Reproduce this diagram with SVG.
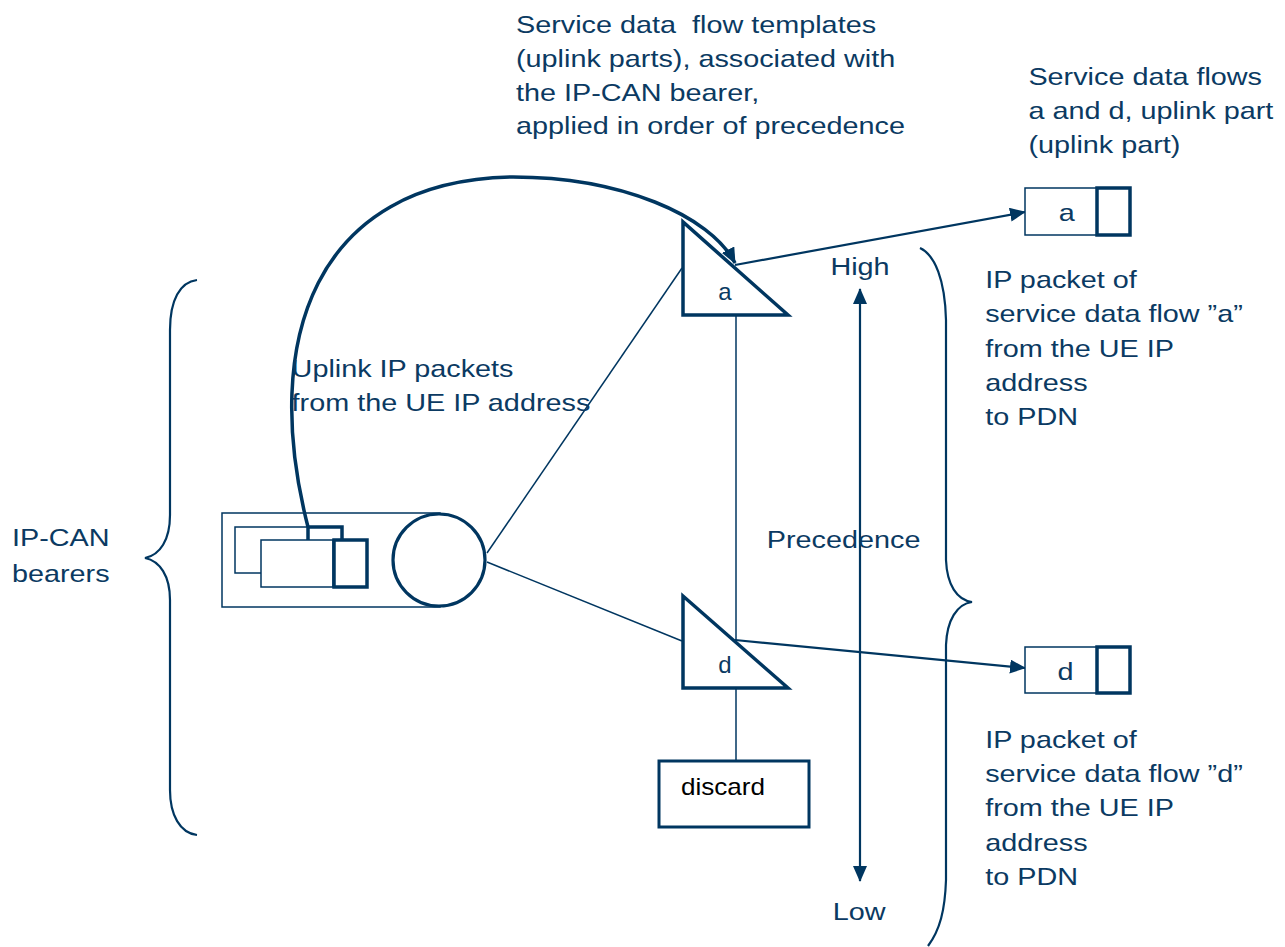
<svg xmlns="http://www.w3.org/2000/svg" width="1285" height="947" viewBox="0 0 1285 947">
<style>
text{font-family:"Liberation Sans",Arial,sans-serif;fill:#0b3a62;font-size:24px}
.thin{fill:none;stroke:#003660;stroke-width:1.5}
.mid{fill:none;stroke:#003660;stroke-width:2.2}
.thick{fill:none;stroke:#003660;stroke-width:3.5}
.boxw{fill:#fff;stroke:#003660;stroke-width:1.5}
.boxt{fill:#fff;stroke:#003660;stroke-width:3.5}
</style>
<defs>
<marker id="ah" viewBox="0 0 16 14" refX="15" refY="7" markerWidth="16" markerHeight="14" orient="auto" markerUnits="userSpaceOnUse">
<path d="M0,0 L16,7 L0,14 z" fill="#003660"/>
</marker>
<marker id="ahs" viewBox="0 0 16 14" refX="1" refY="7" markerWidth="16" markerHeight="14" orient="auto" markerUnits="userSpaceOnUse">
<path d="M16,0 L0,7 L16,14 z" fill="#003660"/>
</marker>
</defs>
<rect width="1285" height="947" fill="#fff"/>

<g id="connectors">
<line class="thin" x1="487" y1="553" x2="682" y2="268"/>
<line class="thin" x1="487" y1="562" x2="682" y2="641"/>
<line class="thin" x1="736" y1="315" x2="736" y2="640"/>
<line class="thin" x1="736" y1="688" x2="736" y2="760"/>
<line class="mid" x1="735" y1="265" x2="1025" y2="212" stroke-width="3" marker-end="url(#ah)"/>
<line class="mid" x1="735" y1="640" x2="1025" y2="668" stroke-width="3" marker-end="url(#ah)"/>
<path class="thick" d="M308,527 C260,340 315,180 513,177 C620,177 710,215 735,263" stroke-width="4" marker-end="url(#ah)"/>
<line class="mid" x1="860" y1="289" x2="860" y2="881" stroke-width="3" marker-start="url(#ahs)" marker-end="url(#ah)"/>
</g>

<g id="bearer">
<rect class="thin" x="222" y="513" width="218" height="94"/>
<rect class="boxw" x="235" y="527" width="107" height="46"/>
<rect class="boxw" x="261" y="540" width="72" height="47"/>
<rect class="boxt" x="334" y="540" width="33" height="47"/>
<path class="thick" d="M308,540 L308,527 L342,527 L342,540"/>
<circle cx="439" cy="560" r="46" fill="#fff" stroke="#003660" stroke-width="3.2"/>
</g>

<g id="tri-a">
<path class="thick" d="M683,222 L683,315 L788,315 Z" fill="#fff"/>
<text x="725" y="300" font-size="20" text-anchor="middle">a</text>
</g>
<g id="tri-d">
<path class="thick" d="M683,596 L683,688 L788,688 Z" fill="#fff"/>
<text x="725" y="673" font-size="20" text-anchor="middle">d</text>
</g>

<g id="discard">
<rect x="659" y="761" width="150" height="66" fill="#fff" stroke="#003660" stroke-width="3"/>
<text x="681" y="795" font-size="22" style="fill:#000" textLength="84" lengthAdjust="spacingAndGlyphs">discard</text>
</g>

<g id="box-a">
<rect class="boxw" x="1025" y="188" width="72" height="47"/>
<rect class="boxt" x="1097" y="188" width="33" height="47"/>
<text transform="scale(1.2,1)" x="889" y="221" text-anchor="middle">a</text>
</g>
<g id="box-d">
<rect class="boxw" x="1025" y="647" width="72" height="46"/>
<rect class="boxt" x="1097" y="647" width="33" height="46"/>
<text transform="scale(1.2,1)" x="888" y="680" text-anchor="middle">d</text>
</g>

<g id="braces">
<path class="mid" d="M197,280 C180,282 170,300 170,330 L170,515 C170,540 160,555 145,558 C160,561 170,576 170,600 L170,790 C170,815 180,833 197,835"/>
<path class="mid" d="M920,248 C935,255 945,280 946,320 L946,560 C947,585 957,600 972,602 C957,604 947,620 946,645 L946,880 C945,910 940,930 928,946"/>
</g>

<g id="labels" transform="scale(1.2,1)">
<text x="430" y="33" xml:space="preserve">Service data  flow templates</text>
<text x="430" y="67">(uplink parts), associated with</text>
<text x="430" y="101">the IP-CAN bearer,</text>
<text x="430" y="134">applied in order of precedence</text>

<text x="857" y="85">Service data flows</text>
<text x="857" y="119">a and d, uplink part</text>
<text x="857" y="153">(uplink part)</text>

<text x="821" y="288">IP packet of</text>
<text x="821" y="322">service data flow ”a”</text>
<text x="821" y="357">from the UE IP</text>
<text x="821" y="391">address</text>
<text x="821" y="425">to PDN</text>

<text x="821" y="748">IP packet of</text>
<text x="821" y="782">service data flow ”d”</text>
<text x="821" y="816">from the UE IP</text>
<text x="821" y="851">address</text>
<text x="821" y="885">to PDN</text>

<text x="243" y="377">Uplink IP packets</text>
<text x="243" y="411">from the UE IP address</text>

<text x="10" y="546">IP-CAN</text>
<text x="10" y="582">bearers</text>

<text x="692" y="275">High</text>
<text x="639" y="548">Precedence</text>
<text x="694" y="920">Low</text>
</g>
</svg>
